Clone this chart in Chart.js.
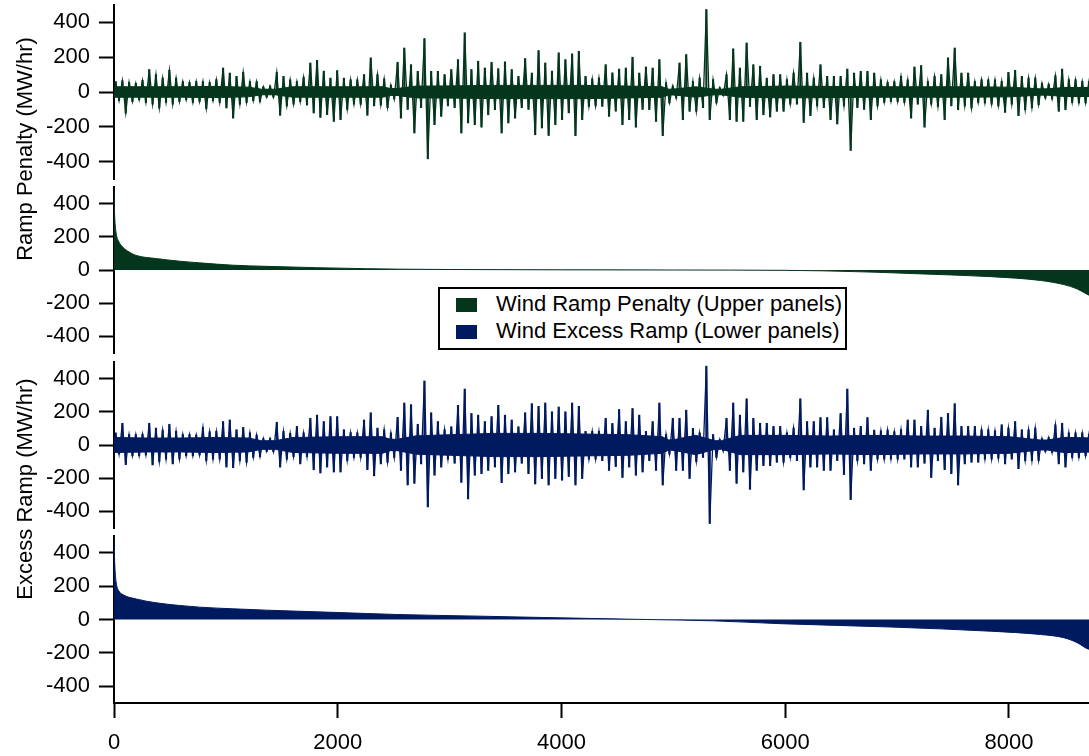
<!DOCTYPE html>
<html>
<head>
<meta charset="utf-8">
<script src="https://cdn.jsdelivr.net/npm/chart.js@4.4.0/dist/chart.umd.min.js"></script>
<style>
  html, body { margin: 0; padding: 0; background: #fff; overflow: hidden; }
  #wrap { position: relative; width: 1089px; height: 756px; overflow: hidden; }
  #wrap canvas { position: absolute; left: 0; }
  .ytitle {
    position: absolute; width: 300px; height: 22px; line-height: 22px;
    text-align: center; white-space: nowrap; color: #000;
    font: 22px 'Liberation Sans', Arial, sans-serif;
    transform: rotate(-90deg);
  }
  #legend {
    position: absolute; left: 438px; top: 287px; width: 409px; height: 63px;
    box-sizing: border-box; border: 2px solid #000; background: #fff;
    font: 22px 'Liberation Sans', Arial, sans-serif; color: #000;
  }
  #legend .sw { position: absolute; left: 16px; width: 21px; height: 14px; }
  #legend .tx { position: absolute; left: 56px; line-height: 26px; white-space: nowrap; }
</style>
</head>
<body>
<div id="wrap">
  <canvas id="p1" width="1094" height="184" style="top:0px"></canvas>
  <canvas id="p2" width="1094" height="176" style="top:182px"></canvas>
  <canvas id="p3" width="1094" height="176" style="top:357px"></canvas>
  <canvas id="p4" width="1094" height="225" style="top:531px"></canvas>

  <div class="ytitle" style="left:-127px; top:138px">Ramp Penalty (MW/hr)</div>
  <div class="ytitle" style="left:-127px; top:478px">Excess Ramp (MW/hr)</div>

  <div id="legend">
    <span class="sw" style="top:9px; background:#03361c"></span>
    <span class="tx" style="top:2px">Wind Ramp Penalty (Upper panels)</span>
    <span class="sw" style="top:36px; background:#001a60"></span>
    <span class="tx" style="top:29px">Wind Excess Ramp (Lower panels)</span>
  </div>
</div>

<script>
// ===== DATA =====
// hourly series summarised in 60-hour bins: peak up / peak down in each bin
const binHours = 60;
const hoursInYear = 8760;

const penaltyHi = [
  60, 65, 55, 50, 67, 129, 100, 80, 125, 80,
  60, 55, 60, 60, 55, 71, 138, 109, 90, 113,
  60, 60, 30, 35, 113, 90, 70, 60, 85, 167,
  182, 120, 80, 123, 80, 70, 70, 100, 196, 100,
  75, 40, 171, 253, 157, 119, 307, 119, 119, 100,
  129, 186, 340, 129, 177, 138, 171, 134, 173, 129,
  90, 192, 109, 238, 167, 120, 225, 186, 219, 234,
  90, 75, 80, 157, 110, 132, 138, 200, 109, 144,
  138, 186, 52, 35, 167, 215, 60, 80, 474, 71,
  25, 100, 248, 138, 282, 157, 148, 80, 100, 100,
  71, 109, 286, 109, 80, 157, 90, 90, 90, 132,
  109, 119, 119, 109, 70, 55, 60, 90, 70, 144,
  152, 60, 90, 100, 196, 253, 109, 109, 60, 71,
  70, 70, 61, 113, 125, 90, 80, 80, 50, 45,
  94, 132, 71, 71, 61, 60
];
const penaltyLo = [
  -50, -121, -55, -45, -60, -70, -92, -60, -70, -55,
  -45, -60, -55, -96, -50, -60, -92, -150, -70, -60,
  -50, -55, -30, -30, -134, -80, -70, -55, -75, -121,
  -146, -130, -169, -159, -100, -70, -70, -134, -80, -75,
  -90, -40, -150, -100, -236, -90, -384, -188, -140, -80,
  -90, -236, -178, -188, -202, -131, -102, -236, -178, -150,
  -90, -100, -246, -207, -250, -188, -159, -120, -251, -159,
  -83, -80, -83, -140, -110, -188, -159, -202, -100, -102,
  -169, -251, -63, -35, -159, -111, -111, -90, -159, -63,
  -20, -159, -169, -169, -83, -159, -131, -144, -111, -111,
  -70, -70, -175, -136, -80, -90, -159, -184, -80, -336,
  -90, -100, -159, -80, -60, -54, -55, -60, -150, -70,
  -202, -70, -83, -159, -80, -102, -80, -92, -60, -63,
  -70, -80, -117, -70, -136, -102, -90, -73, -35, -40,
  -111, -102, -60, -63, -63, -55
];

const excessHi = [
  73, 131, 63, 63, 65, 131, 102, 90, 125, 82,
  63, 63, 60, 106, 80, 82, 141, 151, 92, 106,
  73, 60, 39, 40, 137, 82, 70, 112, 73, 161,
  180, 141, 171, 171, 92, 75, 73, 151, 194, 102,
  92, 73, 167, 253, 243, 125, 386, 194, 141, 92,
  110, 239, 337, 190, 180, 141, 171, 239, 180, 151,
  110, 194, 249, 233, 253, 200, 229, 200, 253, 233,
  82, 82, 82, 161, 130, 214, 141, 220, 180, 82,
  141, 253, 63, 161, 161, 210, 100, 73, 475, 63,
  33, 161, 253, 180, 278, 161, 131, 131, 112, 112,
  73, 102, 278, 141, 141, 165, 165, 92, 190, 337,
  102, 112, 165, 90, 85, 90, 80, 92, 151, 151,
  112, 210, 102, 167, 190, 249, 112, 112, 112, 92,
  92, 85, 122, 102, 141, 92, 92, 102, 39, 45,
  122, 131, 73, 73, 73, 65
];
const excessLo = [
  -55, -118, -65, -65, -60, -120, -100, -85, -114, -85,
  -65, -65, -60, -94, -85, -85, -133, -137, -94, -104,
  -75, -70, -39, -40, -133, -85, -70, -114, -70, -149,
  -169, -133, -163, -163, -94, -75, -75, -149, -186, -114,
  -104, -75, -153, -241, -231, -114, -373, -182, -133, -85,
  -110, -225, -325, -182, -173, -153, -133, -227, -173, -163,
  -110, -173, -235, -202, -241, -202, -212, -190, -241, -202,
  -85, -85, -94, -153, -130, -196, -133, -182, -163, -94,
  -153, -241, -55, -153, -153, -202, -100, -75, -473, -75,
  -35, -153, -231, -163, -267, -153, -124, -124, -104, -104,
  -75, -94, -271, -133, -133, -153, -153, -94, -178, -329,
  -94, -114, -153, -85, -85, -85, -85, -85, -133, -133,
  -110, -196, -94, -149, -173, -241, -114, -104, -104, -85,
  -85, -80, -114, -85, -143, -94, -94, -94, -39, -45,
  -114, -133, -75, -75, -65, -60
];

// half-width of the dense band the hourly trace fills around zero
const coreHours   = [0, 300, 600, 900, 1200, 1320, 1440, 1600, 2000, 2400, 2470, 2530, 2700, 3000, 3400, 3800, 4200, 4600, 4900, 4960, 5020, 5200, 5370, 5430, 5600, 6000, 6400, 6800, 7200, 7600, 8000, 8280, 8340, 8500, 8760];
const penaltyCore = [30, 30, 30, 32, 28, 16, 16, 30, 30, 30, 20, 20, 34, 35, 38, 38, 38, 34, 30, 16, 18, 30, 16, 16, 30, 34, 32, 30, 30, 30, 28, 18, 18, 26, 26];
const excessCore  = [45, 42, 42, 45, 42, 26, 26, 45, 50, 50, 34, 34, 55, 62, 70, 70, 66, 62, 50, 30, 34, 58, 26, 26, 58, 58, 54, 58, 54, 54, 50, 30, 30, 46, 42];

// duration curves (values sorted high to low)
const penaltySortedHours  = [0, 4, 10, 20, 40, 79, 120, 198, 377, 586, 765, 1061, 1362, 1809, 2257, 2555, 3000, 4000, 5000, 6000, 6340, 6800, 7235, 7835, 8282, 8490, 8610, 8700, 8760];
const penaltySortedValues = [490, 360, 280, 218, 175, 137, 115, 88, 69, 53, 43, 29, 22, 14, 8, 5, 3, 1, 0, -2, -5, -13, -24, -40, -63, -88, -114, -147, -165];

const excessSortedHours  = [0, 4, 10, 20, 40, 79, 198, 377, 586, 765, 1063, 1362, 1809, 2257, 2525, 3270, 3987, 4763, 5357, 5956, 6940, 7835, 8282, 8490, 8610, 8700, 8760];
const excessSortedValues = [497, 380, 290, 219, 175, 149, 123, 100, 84, 74, 64, 56, 46, 36, 30, 20, 10, 0, -8, -25, -45, -70, -90, -109, -139, -175, -185];

const xTicks = [0, 2000, 4000, 6000, 8000];
const yTicks = [-400, -200, 0, 200, 400];

const GREEN = '#03361c';
const NAVY = '#001a60';
const FONT = { family: "'Liberation Sans', Arial, sans-serif", size: 22 };

// ===== HELPERS =====
const upX = i => i * binHours + binHours / 4;
const downX = i => i * binHours + binHours * 3 / 4;

// up peak in the first half of each bin, down peak in the second half
function zigzag(hi, lo) {
    const pts = [];
    hi.forEach((h, i) => {
        pts.push({ x: upX(i), y: h });
        pts.push({ x: downX(i), y: lo[i] });
    });
    return pts;
}

function curve(hours, values) {
    return hours.map((h, i) => ({ x: h, y: values[i] }));
}

function noiseSets(hi, lo, core, color) {
    const line = {
        type: 'line',
        borderColor: color,
        backgroundColor: color,
        pointRadius: 0,
        tension: 0
    };
    const bar = {
        type: 'bar',
        backgroundColor: color,
        borderWidth: 0,
        barThickness: 1.5,
        grouped: false
    };
    return [
        { ...line, data: curve(coreHours, core), borderWidth: 1, fill: '+1' },
        { ...line, data: curve(coreHours, core.map(v => -v)), borderWidth: 1, fill: false },
        { ...line, data: zigzag(hi, lo), borderWidth: 1.3, fill: false },
        { ...bar, data: hi.map((h, i) => ({ x: upX(i), y: [0, h] })) },
        { ...bar, data: lo.map((l, i) => ({ x: downX(i), y: [l, 0] })) }
    ];
}

function sortedSet(hours, values, color) {
    return [{
        data: curve(hours, values),
        borderColor: color,
        backgroundColor: color,
        borderWidth: 1,
        pointRadius: 0,
        fill: 'origin',
        cubicInterpolationMode: 'monotone'
    }];
}

function makePanel(canvasId, datasets, showX) {
    return new Chart(document.getElementById(canvasId), {
        type: 'line',
        data: { datasets },
        options: {
            responsive: false,
            animation: false,
            events: [],
            layout: { padding: { top: 5, bottom: showX ? 0 : 5, left: 0, right: 0 } },
            plugins: { legend: { display: false }, tooltip: { enabled: false } },
            scales: {
                x: {
                    type: 'linear',
                    min: 0,
                    max: hoursInYear,
                    offset: false,
                    display: showX,
                    afterBuildTicks: s => { s.ticks = xTicks.map(v => ({ value: v })); },
                    afterFit: s => {
                        if (!showX) return;
                        s.height = 53; s.paddingLeft = 0; s.paddingRight = 0;
                    },
                    grid: { offset: false, drawOnChartArea: false, drawTicks: true, tickLength: 15, tickColor: '#000', tickWidth: 2 },
                    border: { display: true, color: '#000', width: 2 },
                    ticks: { font: FONT, color: '#000', padding: 12, maxRotation: 0, autoSkip: false, callback: v => String(v) }
                },
                y: {
                    type: 'linear',
                    min: -500,
                    max: 500,
                    afterBuildTicks: s => { s.ticks = yTicks.map(v => ({ value: v })); },
                    afterFit: s => { s.width = 114; s.paddingTop = 0; s.paddingBottom = 0; },
                    grid: { drawOnChartArea: false, drawTicks: true, tickLength: 15, tickColor: '#000', tickWidth: 2 },
                    border: { display: true, color: '#000', width: 2 },
                    ticks: { font: FONT, color: '#000', padding: 9, autoSkip: false, callback: v => String(v) }
                }
            }
        }
    });
}

// ===== PANELS =====
makePanel('p1', noiseSets(penaltyHi, penaltyLo, penaltyCore, GREEN), false);
makePanel('p2', sortedSet(penaltySortedHours, penaltySortedValues, GREEN), false);
makePanel('p3', noiseSets(excessHi, excessLo, excessCore, NAVY), false);
makePanel('p4', sortedSet(excessSortedHours, excessSortedValues, NAVY), true);
</script>
</body>
</html>
